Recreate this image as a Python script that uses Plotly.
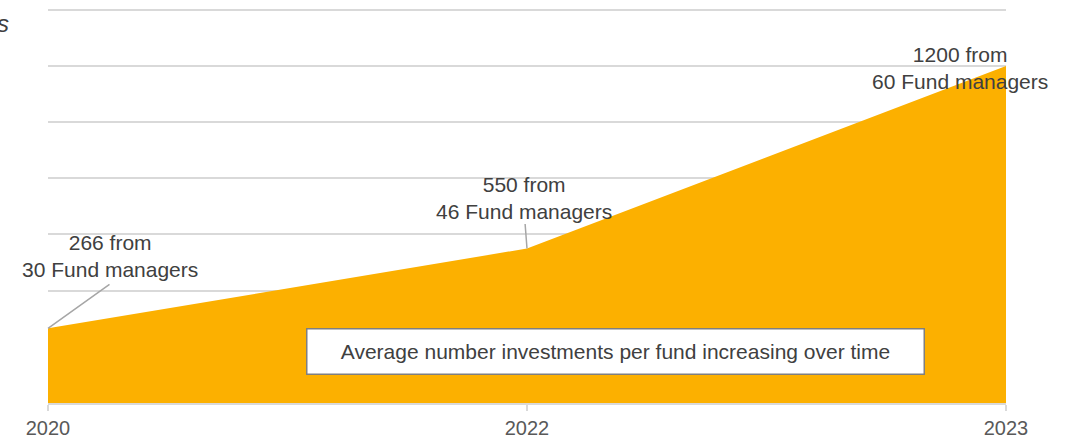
import plotly.graph_objects as go

years = ["2020", "2022", "2023"]
investments = [266, 550, 1200]
fund_managers = [30, 46, 60]
note = "Average number investments per fund increasing over time"

font_family = "Liberation Sans, Arial, sans-serif"
text_grey = "#404040"

fig = go.Figure()
fig.add_trace(
    go.Scatter(
        x=years,
        y=investments,
        mode="lines",
        fill="tozeroy",
        fillcolor="#FCB000",
        line=dict(color="#FCB000", width=0),
        hoverinfo="x+y",
        showlegend=False,
    )
)

# label position and leader line tail (pixel offsets from the point)
label_shift = [(62, 72), (-3, 51), (-46, -2)]
leader_tail = [(63, -45), (-2, -26), None]
for i, (val, n) in enumerate(zip(investments, fund_managers)):
    dx, dy = label_shift[i]
    fig.add_annotation(
        x=i, y=val, text=f"{val} from<br>{n} Fund managers", showarrow=False,
        xshift=dx, yshift=dy,
        font=dict(size=21, color=text_grey, family=font_family),
    )
    if leader_tail[i]:
        ax, ay = leader_tail[i]
        fig.add_annotation(
            x=i, y=val, text="", showarrow=True, ax=ax, ay=ay,
            arrowhead=0, arrowwidth=1.5, arrowcolor="#a6a6a6",
        )

fig.add_annotation(
    xref="paper", yref="paper", x=0.592, y=0.13, yanchor="middle",
    text=note, showarrow=False,
    width=614, height=42,
    bgcolor="white", bordercolor="#7f7f7f", borderwidth=1.5,
    font=dict(size=21, color=text_grey, family=font_family),
)

# cut-off title fragment at top left
fig.add_annotation(
    xref="paper", yref="paper", x=0, y=1, xshift=-37, yshift=-16,
    xanchor="right", yanchor="middle", text="<i>s</i>", showarrow=False,
    font=dict(size=24, color=text_grey, family=font_family),
)

fig.update_layout(
    width=1076, height=442,
    margin=dict(l=48, r=70, t=7, b=39),
    plot_bgcolor="white", paper_bgcolor="white",
    font=dict(family=font_family, color=text_grey),
)
fig.update_xaxes(
    type="category", range=[0, 2], showgrid=False, automargin=False,
    showline=True, linecolor="#d9d9d9", linewidth=1.5,
    ticks="outside", ticklen=6, tickcolor="#d9d9d9", tickwidth=1.5,
    tickfont=dict(size=20, color="#595959"),
)
fig.update_yaxes(
    range=[0, 1410], dtick=200, showgrid=True, gridcolor="#d9d9d9", gridwidth=1.5,
    showticklabels=False, zeroline=False, automargin=False,
)

fig.write_html(
    "out.html",
    config={"displayModeBar": False},
    post_script="document.body.style.margin='0px';",
)
